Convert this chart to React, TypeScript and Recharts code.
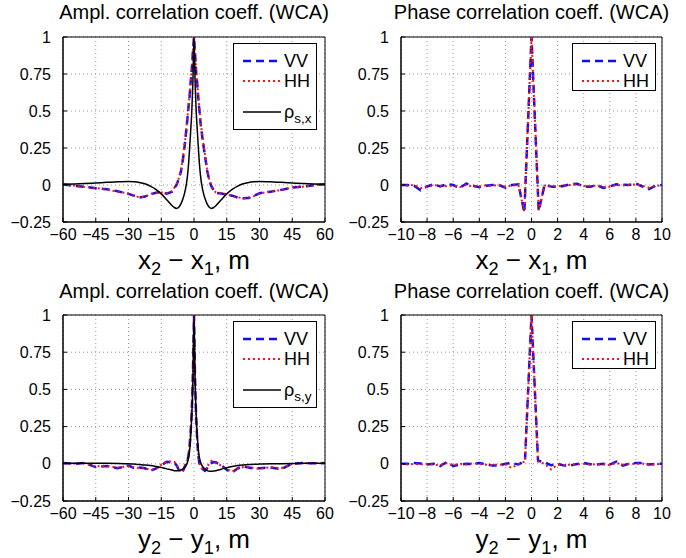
import React from 'react';
import { LineChart, Line, XAxis, YAxis, CartesianGrid, ReferenceArea } from 'recharts';

// separation grid (m) for the amplitude panels
const ampX = [-60, -55, -50, -45, -40, -35, -30, -27.5, -25, -22.5, -20, -17.5, -15, -12.5, -10, -9, -8, -7, -6, -5, -4, -3, -2.5, -2, -1.5, -1, -0.5, 0, 0.5, 1, 1.5, 2, 2.5, 3, 4, 5, 6, 7, 8, 9, 10, 12.5, 15, 17.5, 20, 22.5, 25, 27.5, 30, 35, 40, 45, 50, 55, 60];

// amplitude correlation along x
const ampVVx = [0.005, -0.006, -0.012, -0.022, -0.028, -0.042, -0.06, -0.072, -0.085, -0.078, -0.063, -0.052, -0.048, -0.058, -0.045, -0.02, 0.0, 0.04, 0.09, 0.18, 0.3, 0.45, 0.53, 0.6, 0.7, 0.78, 0.9, 1, 0.88, 0.76, 0.68, 0.58, 0.5, 0.42, 0.3, 0.2, 0.1, 0.03, -0.01, -0.035, -0.052, -0.058, -0.065, -0.072, -0.085, -0.09, -0.088, -0.072, -0.056, -0.045, -0.033, -0.018, -0.01, -0.002, 0.005];
const ampHHx = [0.004, -0.004, -0.014, -0.02, -0.031, -0.045, -0.057, -0.075, -0.082, -0.08, -0.06, -0.055, -0.05, -0.055, -0.042, -0.018, 0.004, 0.045, 0.1, 0.19, 0.31, 0.46, 0.54, 0.61, 0.7, 0.79, 0.9, 1, 0.89, 0.77, 0.69, 0.59, 0.51, 0.43, 0.31, 0.21, 0.11, 0.035, -0.006, -0.032, -0.05, -0.055, -0.062, -0.075, -0.082, -0.092, -0.085, -0.075, -0.058, -0.042, -0.035, -0.016, -0.012, -0.001, 0.004];
const rhoSX = [0.005, 0.007, 0.01, 0.014, 0.018, 0.022, 0.024, 0.022, 0.017, 0.008, -0.008, -0.03, -0.06, -0.1, -0.14, -0.152, -0.158, -0.15, -0.128, -0.09, -0.035, 0.06, 0.14, 0.25, 0.37, 0.5, 0.7, 1, 0.7, 0.5, 0.37, 0.25, 0.14, 0.06, -0.035, -0.09, -0.128, -0.15, -0.158, -0.152, -0.14, -0.1, -0.06, -0.03, -0.008, 0.008, 0.017, 0.022, 0.024, 0.022, 0.018, 0.014, 0.01, 0.007, 0.005];

// amplitude correlation along y
const ampVVy = [0.005, 0.0, 0.005, -0.022, -0.015, -0.03, -0.012, -0.028, -0.025, -0.03, -0.047, -0.032, -0.01, 0.013, 0.01, 0.008, -0.01, -0.04, -0.058, -0.045, -0.01, 0.02, 0.06, 0.12, 0.22, 0.36, 0.6, 1, 0.55, 0.3, 0.15, 0.05, 0.0, -0.015, -0.035, -0.047, -0.03, -0.01, 0.005, 0.012, 0.01, -0.01, -0.04, -0.058, -0.03, -0.018, -0.025, -0.031, -0.03, -0.025, -0.036, 0.002, 0.005, 0.003, 0.005];
const ampHHy = [0.004, 0.002, 0.003, -0.018, -0.012, -0.027, -0.015, -0.024, -0.028, -0.026, -0.043, -0.035, -0.006, 0.016, 0.015, 0.012, -0.004, -0.035, -0.052, -0.05, -0.014, 0.025, 0.07, 0.13, 0.24, 0.38, 0.62, 1, 0.57, 0.32, 0.16, 0.06, 0.005, -0.02, -0.04, -0.042, -0.02, 0.005, 0.02, 0.018, 0.008, -0.014, -0.036, -0.052, -0.034, -0.022, -0.02, -0.028, -0.034, -0.022, -0.03, 0.0, 0.004, 0.004, 0.004];
const rhoSY = [0.003, 0.003, 0.003, 0.003, 0.003, 0.002, 0.0, -0.002, -0.005, -0.008, -0.012, -0.018, -0.025, -0.034, -0.042, -0.046, -0.047, -0.046, -0.042, -0.034, -0.02, 0.01, 0.04, 0.09, 0.19, 0.33, 0.56, 1, 0.56, 0.33, 0.19, 0.09, 0.04, 0.01, -0.02, -0.036, -0.045, -0.05, -0.05, -0.049, -0.046, -0.036, -0.026, -0.018, -0.012, -0.008, -0.005, -0.003, -0.002, 0.0, 0.001, 0.002, 0.003, 0.003, 0.003];

// separation grid (m) for the phase panels
const phaseXs = [-10, -9.5, -9, -8.5, -8, -7.5, -7, -6.5, -6, -5.5, -5, -4.5, -4, -3.5, -3, -2.5, -2, -1.5, -1, -0.55, 0, 0.55, 1, 1.5, 2, 2.5, 3, 3.5, 4, 4.5, 5, 5.5, 6, 6.5, 7, 7.5, 8, 8.5, 9, 9.5, 10];
const phaseVVx = [0.0, 0.0, -0.005, -0.035, -0.01, 0.005, -0.01, 0.005, 0.0, -0.02, 0.01, -0.005, -0.015, -0.005, 0.0, 0.0, -0.018, 0.0, 0.005, -0.185, 1, -0.175, 0.0, -0.01, -0.015, -0.005, 0.005, 0.008, -0.01, -0.012, 0.0, -0.02, -0.01, 0.005, 0.002, 0.0, 0.01, -0.01, -0.028, -0.005, 0.0];
const phaseHHx = [0.0, -0.005, 0.0, -0.02, -0.012, 0.0, -0.005, -0.008, -0.004, -0.015, 0.0, -0.01, -0.01, -0.002, -0.006, 0.002, -0.012, -0.004, 0.0, -0.18, 1, -0.17, -0.004, -0.006, -0.01, -0.002, 0.0, 0.004, -0.008, -0.006, -0.004, -0.014, -0.012, 0.0, -0.004, 0.002, 0.004, -0.006, -0.018, -0.008, 0.0];

const phaseYs = [-10, -9.5, -9, -8.5, -8, -7.5, -7, -6.5, -6, -5.5, -5, -4.5, -4, -3.5, -3, -2.5, -2, -1.5, -1, -0.5, 0, 0.5, 1, 1.5, 2, 2.5, 3, 3.5, 4, 4.5, 5, 5.5, 6, 6.5, 7, 7.5, 8, 8.5, 9, 9.5, 10];
const phaseVVy = [0.0, 0.0, 0.005, 0.002, -0.005, 0.0, -0.015, 0.012, -0.015, -0.005, 0.0, -0.002, 0.005, -0.003, -0.012, -0.01, 0.0, 0.005, -0.005, 0.02, 1, 0.02, 0.01, -0.01, 0.0, -0.012, -0.01, -0.002, 0.005, -0.003, -0.005, 0.0, -0.005, 0.015, -0.012, 0.002, 0.005, 0.005, -0.005, 0.0, 0.0];
const phaseHHy = [0.0, -0.005, 0.0, -0.004, 0.0, -0.006, -0.01, 0.004, -0.008, 0.0, -0.004, 0.002, 0.0, -0.006, -0.008, -0.006, -0.004, -0.028, 0.0, 0.015, 1, 0.015, 0.0, -0.038, -0.006, -0.008, -0.006, -0.004, 0.0, -0.006, -0.002, -0.004, -0.008, 0.006, -0.006, -0.002, 0.0, 0.002, -0.008, -0.004, 0.0];

const ampTicks = [-60, -45, -30, -15, 0, 15, 30, 45, 60];
const phaseTicks = [-10, -8, -6, -4, -2, 0, 2, 4, 6, 8, 10];
const yTicks = [-0.25, 0, 0.25, 0.5, 0.75, 1];

const FONT = '"Liberation Sans", Arial, Helvetica, sans-serif';
const BLUE = '#1010f0';
const RED = '#ff1010';

const fmt = (v: number) => (v < 0 ? '\u2212' + String(-v) : String(v));

type Row = { x: number; vv: number; hh: number; rho?: number };

function LegendSample({ kind }: { kind: 'vv' | 'hh' | 'rho' }) {
  const style =
    kind === 'vv'
      ? { stroke: BLUE, strokeWidth: 2.5, strokeDasharray: '8 5' }
      : kind === 'hh'
      ? { stroke: RED, strokeWidth: 2, strokeDasharray: '2 3' }
      : { stroke: '#000', strokeWidth: 1.5 };
  return (
    <svg width={38} height={6} style={{ position: 'absolute', left: 9, top: -3 }}>
      <line x1={0} y1={3} x2={38} y2={3} {...style} />
    </svg>
  );
}

interface PanelProps {
  left: number;
  top: number;
  plotLeft: number;
  plotTop: number;
  plotW: number;
  plotH: number;
  title: string;
  xLabel: React.ReactNode;
  data: Row[];
  ticks: number[];
  domain: [number, number];
  rhoLabel?: React.ReactNode;
  legendLeft: number;
  legendH: number;
  rows: number[];
}

function Panel(p: PanelProps) {
  const W = 343;
  const H = 279;
  const margin = {
    top: p.plotTop,
    left: p.plotLeft - 50,
    right: W - p.plotLeft - p.plotW,
    bottom: H - p.plotTop - p.plotH - 25,
  };
  const tickStyle = { fontSize: 16, fill: '#000', fontFamily: FONT };
  return (
    <div style={{ position: 'absolute', left: p.left, top: p.top, width: W, height: H }}>
      <LineChart width={W} height={H} data={p.data} margin={margin}>
        <CartesianGrid stroke="#9a9a9a" strokeDasharray="1 3" horizontalValues={yTicks} verticalValues={p.ticks} />
        <XAxis
          dataKey="x"
          type="number"
          domain={p.domain}
          ticks={p.ticks}
          interval={0}
          tickFormatter={fmt}
          tick={tickStyle}
          tickSize={-4}
          tickMargin={11}
          stroke="#000"
          height={25}
          allowDataOverflow
        />
        <YAxis
          type="number"
          domain={[-0.25, 1]}
          ticks={yTicks}
          interval={0}
          tickFormatter={fmt}
          tick={tickStyle}
          tickSize={-4}
          tickMargin={16}
          stroke="#000"
          width={50}
          allowDataOverflow
        />
        <ReferenceArea x1={p.domain[0]} x2={p.domain[1]} y1={-0.25} y2={1} fill="none" stroke="#000" strokeWidth={1} />
        <Line dataKey="vv" type="linear" stroke={BLUE} strokeWidth={2.5} strokeDasharray="8 5" dot={false} isAnimationActive={false} />
        <Line dataKey="hh" type="linear" stroke={RED} strokeWidth={2} strokeDasharray="2 3" dot={false} isAnimationActive={false} />
        {p.rhoLabel && (
          <Line dataKey="rho" type="monotone" stroke="#000" strokeWidth={1.5} dot={false} isAnimationActive={false} />
        )}
      </LineChart>

      <div
        style={{
          position: 'absolute',
          left: p.plotLeft - 20,
          width: p.plotW + 40,
          top: 2,
          lineHeight: '20px',
          fontSize: 20,
          fontFamily: FONT,
          textAlign: 'center',
          whiteSpace: 'nowrap',
        }}
      >
        {p.title}
      </div>

      <div
        style={{
          position: 'absolute',
          left: p.plotLeft,
          width: p.plotW,
          top: p.plotTop + p.plotH + 26,
          lineHeight: '24px',
          fontSize: 26,
          fontFamily: FONT,
          textAlign: 'center',
          whiteSpace: 'nowrap',
        }}
      >
        {p.xLabel}
      </div>

      <div
        style={{
          position: 'absolute',
          left: p.legendLeft,
          top: p.plotTop + 6,
          width: 84,
          height: p.legendH,
          border: '1px solid #000',
          background: '#fff',
          boxSizing: 'border-box',
          fontFamily: FONT,
          fontSize: 18,
        }}
      >
        {(['vv', 'hh', 'rho'] as const).slice(0, p.rows.length).map((k, i) => (
          <div key={k} style={{ position: 'absolute', left: 0, top: p.rows[i] }}>
            <LegendSample kind={k} />
            <span style={{ position: 'absolute', left: 50, top: -10, lineHeight: '20px', whiteSpace: 'nowrap' }}>
              {k === 'vv' ? 'VV' : k === 'hh' ? 'HH' : p.rhoLabel}
            </span>
          </div>
        ))}
      </div>
    </div>
  );
}

const subStyle: React.CSSProperties = { fontSize: '0.7em', verticalAlign: '-0.35em', lineHeight: 0 };

export default function App() {
  const rowsAx = ampX.map((x, i) => ({ x, vv: ampVVx[i], hh: ampHHx[i], rho: rhoSX[i] }));
  const rowsAy = ampX.map((x, i) => ({ x, vv: ampVVy[i], hh: ampHHy[i], rho: rhoSY[i] }));
  const rowsPx = phaseXs.map((x, i) => ({ x, vv: phaseVVx[i], hh: phaseHHx[i] }));
  const rowsPy = phaseYs.map((x, i) => ({ x, vv: phaseVVy[i], hh: phaseHHy[i] }));

  const xl = (
    <span>
      x<span style={subStyle}>2</span> {'\u2212'} x<span style={subStyle}>1</span>, m
    </span>
  );
  const yl = (
    <span>
      y<span style={subStyle}>2</span> {'\u2212'} y<span style={subStyle}>1</span>, m
    </span>
  );
  const rhoSub = (c: string) => (
    <span>
      {'\u03c1'}
      <span style={{ fontSize: '0.75em', verticalAlign: '-0.4em', lineHeight: 0 }}>s,{c}</span>
    </span>
  );

  return (
    <div style={{ position: 'absolute', left: 0, top: 0, width: 686, height: 558, background: '#fff' }}>
      <Panel
        left={0}
        top={0}
        plotLeft={63}
        plotTop={37}
        plotW={262}
        plotH={185}
        title="Ampl. correlation coeff. (WCA)"
        xLabel={xl}
        data={rowsAx}
        ticks={ampTicks}
        domain={[-60, 60]}
        rhoLabel={rhoSub('x')}
        legendLeft={233}
        legendH={87}
        rows={[17, 37, 68]}
      />
      <Panel
        left={343}
        top={0}
        plotLeft={58}
        plotTop={37}
        plotW={261}
        plotH={185}
        title="Phase correlation coeff. (WCA)"
        xLabel={xl}
        data={rowsPx}
        ticks={phaseTicks}
        domain={[-10, 10]}
        legendLeft={229}
        legendH={48}
        rows={[17, 37]}
      />
      <Panel
        left={0}
        top={279}
        plotLeft={63}
        plotTop={36}
        plotW={262}
        plotH={186}
        title="Ampl. correlation coeff. (WCA)"
        xLabel={yl}
        data={rowsAy}
        ticks={ampTicks}
        domain={[-60, 60]}
        rhoLabel={rhoSub('y')}
        legendLeft={233}
        legendH={87}
        rows={[17, 37, 68]}
      />
      <Panel
        left={343}
        top={279}
        plotLeft={58}
        plotTop={36}
        plotW={261}
        plotH={186}
        title="Phase correlation coeff. (WCA)"
        xLabel={yl}
        data={rowsPy}
        ticks={phaseTicks}
        domain={[-10, 10]}
        legendLeft={229}
        legendH={48}
        rows={[17, 37]}
      />
    </div>
  );
}
